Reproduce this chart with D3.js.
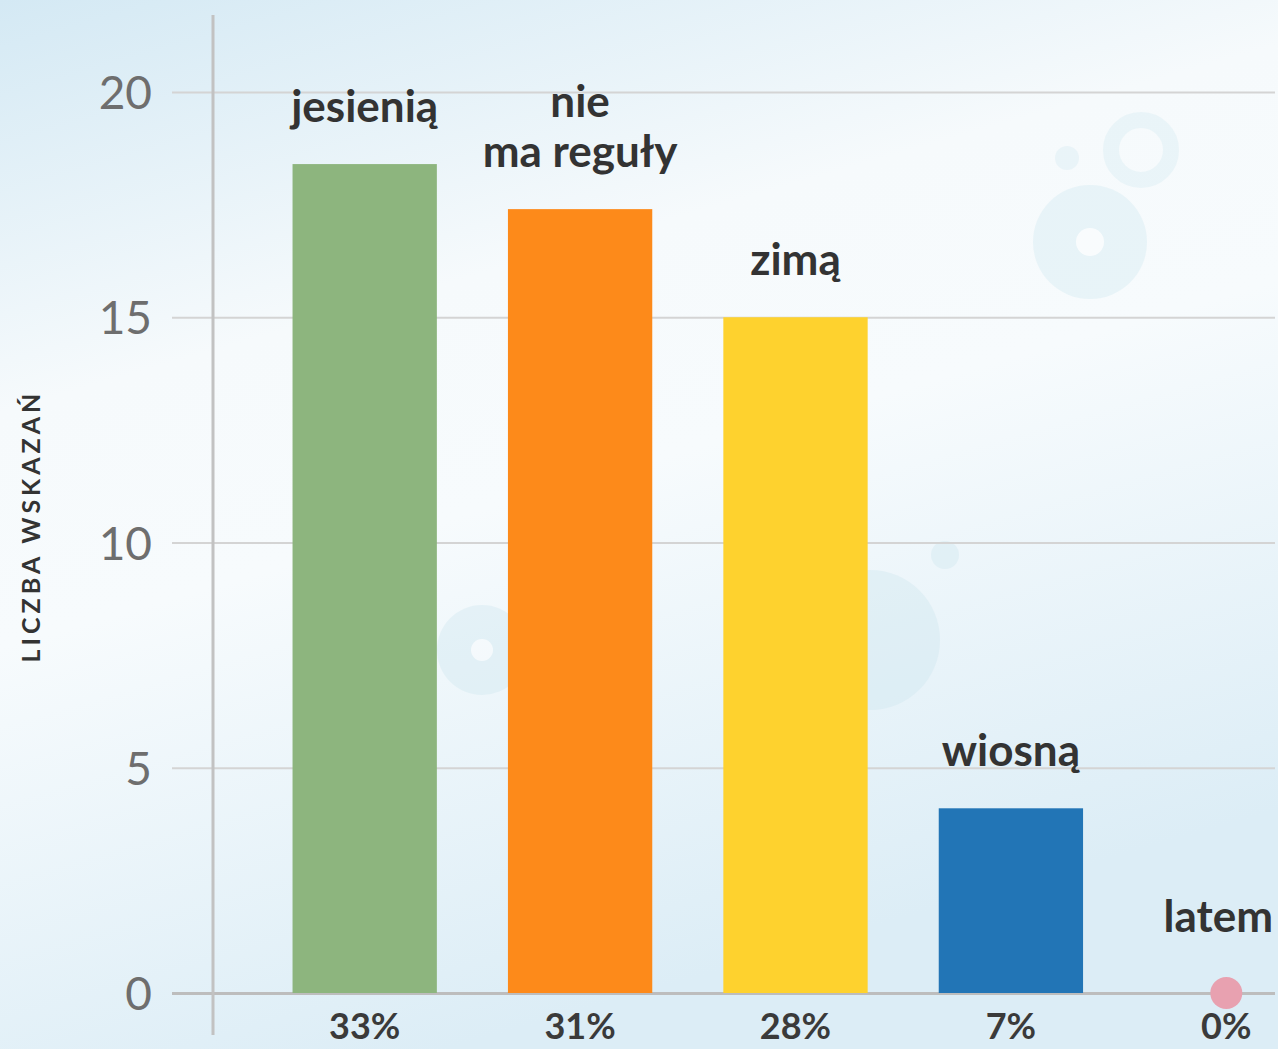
<!DOCTYPE html>
<html>
<head>
<meta charset="utf-8">
<script src="https://cdn.jsdelivr.net/npm/d3@7"></script>
<style>
  body { margin: 0; overflow: hidden; }
  text { font-family: Lato, "Open Sans", sans-serif; }
</style>
</head>
<body>
<div id="chart"></div>
<script>
// data
const categories = ["jesienią", "nie\nma reguły", "zimą", "wiosną", "latem"];
const values = [18.4, 17.4, 15, 4.1, 0];
const shares = ["33%", "31%", "28%", "7%", "0%"];
const colors = ["#8db57e", "#fd8a1a", "#fed22e", "#2275b6", "#e8a1b0"];
const yTicks = [0, 5, 10, 15, 20];
const yTitle = "LICZBA WSKAZAŃ";

const width = 1278, height = 1049;

const svg = d3.select("#chart").append("svg")
    .attr("width", width)
    .attr("height", height);

// background
const defs = svg.append("defs");
const bg = defs.append("linearGradient")
    .attr("id", "bg")
    .attr("x1", 0).attr("y1", 0).attr("x2", 0.35).attr("y2", 1);
bg.append("stop").attr("offset", "0%").attr("stop-color", "#d4e9f4");
bg.append("stop").attr("offset", "35%").attr("stop-color", "#f6fafc");
bg.append("stop").attr("offset", "55%").attr("stop-color", "#f7fbfd");
bg.append("stop").attr("offset", "100%").attr("stop-color", "#dcedf6");

svg.append("rect")
    .attr("width", width)
    .attr("height", height)
    .attr("fill", "url(#bg)");

// faint decorative bubbles
const deco = svg.append("g").attr("opacity", 0.35);
deco.append("circle").attr("cx", 1090).attr("cy", 242).attr("r", 57).attr("fill", "#cde8f1");
deco.append("circle").attr("cx", 1090).attr("cy", 242).attr("r", 14).attr("fill", "#ffffff");
deco.append("circle").attr("cx", 1141).attr("cy", 150).attr("r", 30).attr("fill", "none")
    .attr("stroke", "#d3ebf2").attr("stroke-width", 16);
deco.append("circle").attr("cx", 1067).attr("cy", 158).attr("r", 12).attr("fill", "#d3e9f2");
deco.append("circle").attr("cx", 482).attr("cy", 650).attr("r", 45).attr("fill", "#cbe5ee");
deco.append("circle").attr("cx", 482).attr("cy", 650).attr("r", 11).attr("fill", "#ffffff");
deco.append("circle").attr("cx", 870).attr("cy", 640).attr("r", 70).attr("fill", "#cbe5ee");
deco.append("circle").attr("cx", 945).attr("cy", 555).attr("r", 14).attr("fill", "#cbe5ee");

// scales
const x = d3.scaleBand()
    .domain(categories)
    .range([257, 1334])
    .paddingInner(0.33)
    .paddingOuter(0.165);

const y = d3.scaleLinear()
    .domain([0, 20])
    .range([993, 92]);

// gridlines
const grid = svg.append("g")
    .attr("transform", "translate(1275,0)")
    .call(d3.axisLeft(y).tickValues(yTicks).tickSize(1275 - 172).tickFormat(""));
grid.select(".domain").remove();
grid.selectAll(".tick line")
    .attr("stroke", d => d == 0 ? "#bdbdbd" : "#d4d4d4")
    .attr("stroke-width", d => d == 0 ? 3 : 2);

// tick labels
const yAxis = svg.append("g")
    .attr("transform", "translate(152,0)")
    .call(d3.axisLeft(y).tickValues(yTicks).tickSize(0).tickPadding(0));
yAxis.select(".domain").remove();
yAxis.selectAll(".tick text")
    .attr("fill", "#6e6e6e")
    .style("font-size", "46px")
    .attr("dy", "0.36em");

// vertical axis line
svg.append("line")
    .attr("x1", 213).attr("x2", 213)
    .attr("y1", 15).attr("y2", 1035)
    .attr("stroke", "#c2c2c2")
    .attr("stroke-width", 3);

// axis title
svg.append("text")
    .attr("transform", "translate(40,526) rotate(-90)")
    .attr("text-anchor", "middle")
    .attr("fill", "#333")
    .style("font-size", "25px")
    .style("font-weight", "bold")
    .style("letter-spacing", "4px")
    .text(yTitle);

const data = categories.map((c, i) => ({ name: c, value: values[i], share: shares[i], color: colors[i] }));

// bars
svg.selectAll(".bar")
    .data(data.filter(d => d.value > 0))
    .join("rect")
    .attr("class", "bar")
    .attr("x", d => x(d.name))
    .attr("width", x.bandwidth())
    .attr("y", d => y(d.value))
    .attr("height", d => y(0) - y(d.value))
    .attr("fill", d => d.color);

// zero marker
svg.selectAll(".dot")
    .data(data.filter(d => d.value == 0))
    .join("circle")
    .attr("class", "dot")
    .attr("cx", d => x(d.name) + x.bandwidth() / 2)
    .attr("cy", y(0))
    .attr("r", 16)
    .attr("fill", d => d.color);

// category labels above bars
const labels = svg.selectAll(".label")
    .data(data)
    .join("text")
    .attr("class", "label")
    .attr("text-anchor", "middle")
    .attr("fill", "#333")
    .style("font-size", "44px")
    .style("font-weight", "bold")
    .attr("y", d => {
        let lines = d.name.split("\n").length;
        let base = d.value == 0 ? y(0) - 61 : y(d.value) - 42;
        return base - (lines - 1) * 50;
    });

labels.each(function (d) {
    let t = d3.select(this);
    d.name.split("\n").forEach((line, i) => {
        t.append("tspan")
            .attr("dy", i == 0 ? 0 : 50)
            .text(line);
    });
    // keep the label inside the picture
    let half = this.getBBox().width / 2;
    let cx = Math.min(x(d.name) + x.bandwidth() / 2, width - half - 5);
    t.selectAll("tspan").attr("x", cx);
});

// percentages under axis
svg.selectAll(".share")
    .data(data)
    .join("text")
    .attr("class", "share")
    .attr("text-anchor", "middle")
    .attr("fill", "#3a3a3a")
    .style("font-size", "36px")
    .style("font-weight", "bold")
    .attr("x", d => x(d.name) + x.bandwidth() / 2)
    .attr("y", 1039)
    .text(d => d.share);
</script>
</body>
</html>
